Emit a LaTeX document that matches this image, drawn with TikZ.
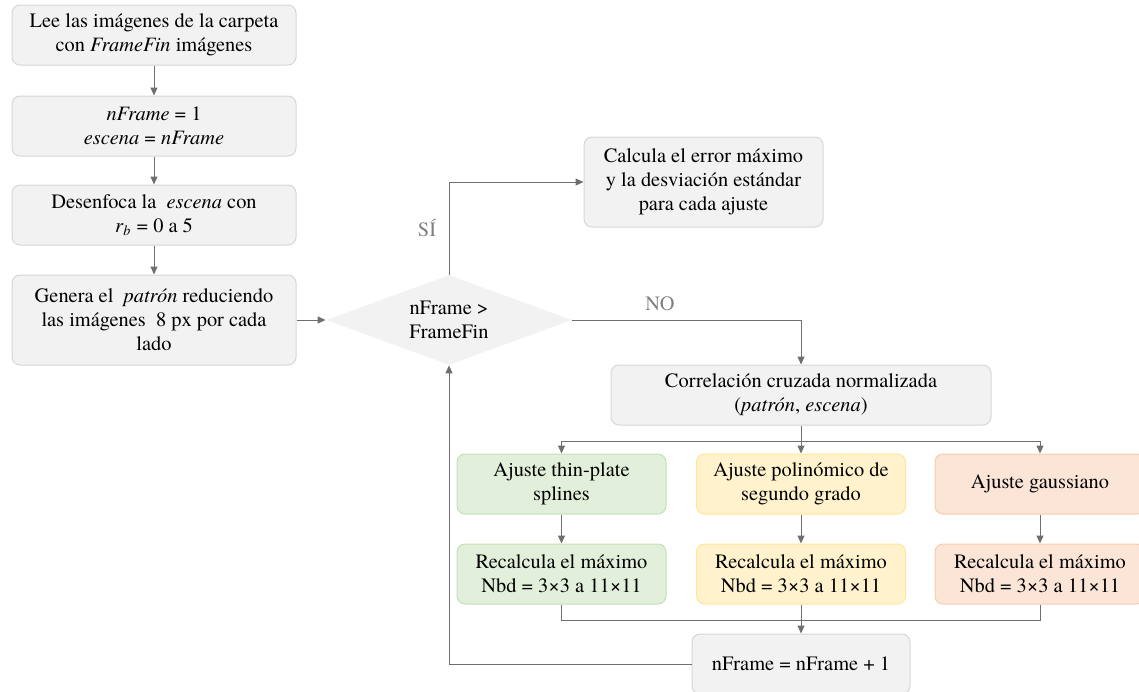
\documentclass[tikz,border=0pt]{standalone}
\usepackage{fontspec}
\setmainfont{texgyretermes}[Extension=.otf, UprightFont=*-regular, ItalicFont=*-italic,
  BoldFont=*-bold, BoldItalicFont=*-bolditalic]
\usepackage{tikz}
\usetikzlibrary{arrows.meta,calc,positioning,shapes.geometric}

\definecolor{boxgray}{HTML}{F2F2F2}
\definecolor{edgegray}{HTML}{D6D6D6}
\definecolor{linegray}{HTML}{6F6F6F}
\definecolor{labgray}{HTML}{7F7F7F}
\definecolor{boxgreen}{HTML}{E2EFDA}
\definecolor{edgegreen}{HTML}{C5E0B4}
\definecolor{boxyellow}{HTML}{FFF2CC}
\definecolor{edgeyellow}{HTML}{FFE699}
\definecolor{boxorange}{HTML}{FBE5D6}
\definecolor{edgeorange}{HTML}{F8CBAD}

\begin{document}
\begin{tikzpicture}[x=0.5pt, y=-0.5pt,
  font=\fontsize{10.2}{12}\selectfont,
  paso/.style={draw=edgegray, fill=boxgray, rounded corners=4pt, line width=0.5pt,
    align=center, inner sep=0pt, minimum height=30pt},
  decide/.style={draw=none, fill=boxgray, diamond, shape aspect=2.7, inner sep=0pt,
    minimum width=123pt, minimum height=45pt, align=center},
  verde/.style={paso, draw=edgegreen, fill=boxgreen},
  amarillo/.style={paso, draw=edgeyellow, fill=boxyellow},
  naranja/.style={paso, draw=edgeorange, fill=boxorange},
  flecha/.style={draw=linegray, line width=0.5pt, -{Triangle[length=4pt,width=3.5pt]}},
  linea/.style={draw=linegray, line width=0.5pt},
  etiqueta/.style={text=labgray}]

\useasboundingbox (0,0) rectangle (1139,691);

% columna izquierda
\node[paso, minimum width=142pt] (leer) at (154,35) {Lee las imágenes de la carpeta\\con \textit{FrameFin} imágenes};
\node[paso, minimum width=142pt] (init) at (154,126) {\textit{nFrame} = 1\\\textit{escena} = \textit{nFrame}};
\node[paso, minimum width=142pt] (blur) at (154,215) {Desenfoca la \ \textit{escena} con\\\textit{r}\textsubscript{\textit{b}} = 0 a 5};
\node[paso, minimum width=142pt, minimum height=45pt] (patron) at (154,320) {Genera el \ \textit{patrón} reduciendo\\las imágenes \ 8 px por cada\\lado};

% decision
\node[decide] (cond) at (449,320) {nFrame >\\FrameFin};
\node[paso, minimum width=119.5pt, minimum height=45pt] (error) at (703.5,182) {Calcula el error máximo\\y la desviación estándar\\para cada ajuste};
\node[paso, minimum width=190pt] (ncc) at (801,395) {Correlación cruzada normalizada\\(\textit{patrón}, \textit{escena})};

% ajustes
\node[verde, minimum width=104.5pt] (tps) at (561.5,484) {Ajuste thin-plate\\splines};
\node[amarillo, minimum width=104.5pt] (poli) at (801,484) {Ajuste polinómico de\\segundo grado};
\node[naranja, minimum width=105pt] (gauss) at (1040,484) {Ajuste gaussiano};
\node[verde, minimum width=104.5pt] (maxa) at (561.5,574) {Recalcula el máximo\\Nbd = 3×3 a 11×11};
\node[amarillo, minimum width=104.5pt] (maxb) at (801,574) {Recalcula el máximo\\Nbd = 3×3 a 11×11};
\node[naranja, minimum width=105pt] (maxc) at (1040,574) {Recalcula el máximo\\Nbd = 3×3 a 11×11};
\node[paso, minimum width=109pt, minimum height=30pt] (incr) at (801,664) {nFrame = nFrame + 1};

% flujo principal
\draw[flecha] (leer) -- (init);
\draw[flecha] (init) -- (blur);
\draw[flecha] (blur) -- (patron);
\draw[flecha] (patron) -- (cond);

% SI / NO
\draw[flecha] (cond.north) |- (error.west);
\node[etiqueta] (si) at (427,228) {SÍ};
\draw[flecha] (cond.east) -| (ncc.north);
\node[etiqueta] (no) at (660,304) {NO};

% reparto a los ajustes
\coordinate (rep) at (801,441);
\draw[linea] (ncc.south) -- (rep);
\draw[flecha] (rep) -| (tps.north);
\draw[flecha] (rep) -- (poli.north);
\draw[flecha] (rep) -| (gauss.north);

\draw[flecha] (tps) -- (maxa);
\draw[flecha] (poli) -- (maxb);
\draw[flecha] (gauss) -- (maxc);

% union y vuelta al bucle
\coordinate (jun) at (801,620);
\draw[linea] (maxa.south) |- (jun) -| (maxc.south);
\draw[linea] (maxb.south) -- (jun);
\draw[flecha] (jun) -- (incr.north);
\draw[flecha] (incr.west) -| (cond.south);

\end{tikzpicture}
\end{document}
